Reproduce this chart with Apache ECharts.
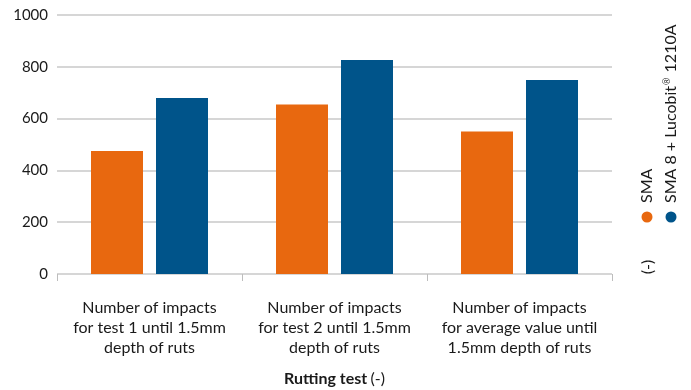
<!DOCTYPE html>
<html>
<head>
<meta charset="utf-8">
<script src="https://cdn.jsdelivr.net/npm/echarts@6/dist/echarts.min.js"></script>
<style>
  html, body { margin: 0; padding: 0; background: #fff; }
  #chart { width: 691px; height: 390px; }
</style>
</head>
<body>
<div id="chart"></div>
<script>
// Rutting test results: number of impacts until 1.5 mm rut depth
const categories = [
  'Number of impacts\nfor test 1 until 1.5mm\ndepth of ruts',
  'Number of impacts\nfor test 2 until 1.5mm\ndepth of ruts',
  'Number of impacts\nfor average value until\n1.5mm depth of ruts'
];
const seriesNames = ['SMA', 'SMA 8 + Lucobit® 1210A'];
const smaValues = [475, 654, 550];
const lucobitValues = [680, 826, 749];
const yTicks = [0, 200, 400, 600, 800, 1000];
const unitLabel = '(-)';

const colors = ['#e8680f', '#00548a'];
const fontFamily = 'Lato, "Open Sans", sans-serif';
const textColor = '#1a1a1a';

const chart = echarts.init(document.getElementById('chart'), null, { renderer: 'canvas' });

// Vertical legend on the right, read bottom-to-top; the ® mark is set as superscript
const legendX = [647, 671];
const legendGraphics = [];
seriesNames.forEach((name, i) => {
  legendGraphics.push({
    type: 'circle',
    shape: { cx: legendX[i], cy: 217, r: 5.5 },
    style: { fill: colors[i] },
    silent: true
  });
  legendGraphics.push({
    type: 'text',
    x: legendX[i],
    y: 203,
    rotation: Math.PI / 2,
    style: {
      text: name.replace('®', '{sup|®}'),
      fill: textColor,
      font: '16px ' + fontFamily,
      align: 'left',
      verticalAlign: 'middle',
      rich: {
        sup: { fontSize: 9, fontFamily: fontFamily, fill: textColor, verticalAlign: 'top', padding: [0, 1, 0, 1] }
      }
    },
    silent: true
  });
});
legendGraphics.push({
  type: 'text',
  x: 648,
  y: 267,
  rotation: Math.PI / 2,
  style: {
    text: unitLabel,
    fill: textColor,
    font: '16px ' + fontFamily,
    align: 'center',
    verticalAlign: 'middle'
  },
  silent: true
});

const option = {
  animation: false,
  backgroundColor: '#fff',
  color: colors,
  grid: { left: 57, right: 79, top: 15, bottom: 116, containLabel: false, outerBoundsMode: 'none' },
  xAxis: {
    type: 'category',
    data: categories,
    offset: 18,
    axisLine: { show: false },
    axisTick: { show: true, length: 7, lineStyle: { color: '#bdbdbd', width: 1 } },
    axisLabel: {
      color: textColor,
      fontFamily: fontFamily,
      fontSize: 16,
      lineHeight: 20,
      margin: 6,
      interval: 0,
      align: 'center'
    },
    name: '{b|Rutting test} {n|(-)}',
    nameLocation: 'middle',
    nameGap: 79,
    nameTextStyle: {
      rich: {
        b: { fontFamily: fontFamily, fontSize: 16, fontWeight: 'bold', color: textColor },
        n: { fontFamily: fontFamily, fontSize: 16, color: textColor }
      }
    }
  },
  yAxis: {
    type: 'value',
    min: yTicks[0],
    max: yTicks[yTicks.length - 1],
    interval: yTicks[1] - yTicks[0],
    axisLine: { show: false },
    axisTick: { show: false },
    axisLabel: {
      color: textColor,
      fontFamily: fontFamily,
      fontSize: 15,
      margin: 9,
      formatter: (v) => String(v)
    },
    splitLine: { lineStyle: { color: '#c8c8c8', width: 1.5 } }
  },
  series: [
    {
      name: seriesNames[0],
      type: 'bar',
      data: smaValues,
      barWidth: 52,
      barGap: '25%',
      itemStyle: { color: colors[0] }
    },
    {
      name: seriesNames[1],
      type: 'bar',
      data: lucobitValues,
      barWidth: 52,
      barGap: '25%',
      itemStyle: { color: colors[1] }
    }
  ],
  graphic: legendGraphics
};

chart.setOption(option);
</script>
</body>
</html>
